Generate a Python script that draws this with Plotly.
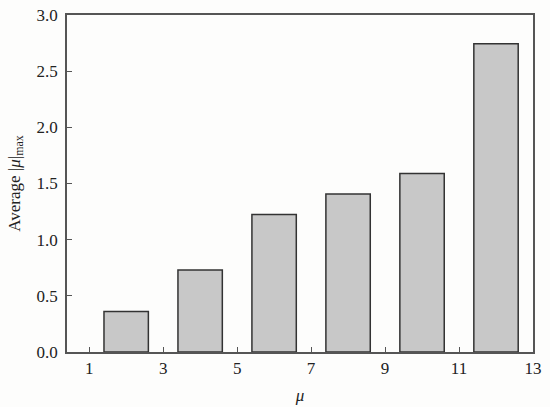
import plotly.graph_objects as go

mu = [2, 4, 6, 8, 10, 12]
avg_mu_max = [0.36, 0.73, 1.225, 1.407, 1.59, 2.743]
x_ticks = [1, 3, 5, 7, 9, 11, 13]
y_ticks = [0.0, 0.5, 1.0, 1.5, 2.0, 2.5, 3.0]

fig = go.Figure()
fig.add_trace(go.Bar(
    x=mu, y=avg_mu_max, width=1.2,
    marker=dict(color="#c8c8c8", line=dict(color="#333333", width=1.5)),
))

font = dict(family="Liberation Serif, Times New Roman, serif", size=17, color="#222222")
axis_common = dict(
    showline=True, linecolor="#555555", linewidth=1.5, mirror=True,
    ticks="inside", ticklen=5, tickcolor="#555555", tickwidth=1,
    showgrid=False, zeroline=False, tickfont=font, automargin=False,
    ticklabeloverflow="allow",
)
fig.update_xaxes(range=[0.4, 13], tickvals=x_ticks, ticktext=[str(v) for v in x_ticks],
                 title=dict(text="<i>μ</i>", font=font, standoff=12), **axis_common)
fig.update_yaxes(range=[0, 3.0], tickvals=y_ticks, ticktext=[f"{v:.1f}" for v in y_ticks],
                 ticklabelstandoff=4,
                 title=dict(text="Average |<i>μ</i>|<sub>max</sub>", font=font, standoff=12),
                 **axis_common)
fig.update_layout(
    width=550, height=407,
    margin=dict(l=67, r=17, t=15, b=55),
    plot_bgcolor="#fdfdfc", paper_bgcolor="#fdfdfc",
    showlegend=False, font=font,
)
fig.write_html("out.html", config={"displayModeBar": False},
               post_script="document.body.style.margin='0';")
